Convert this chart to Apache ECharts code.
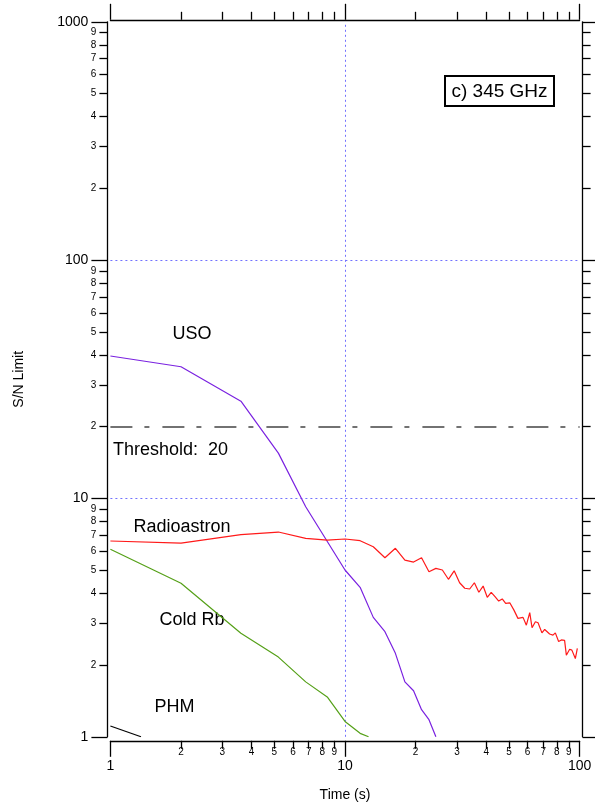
<!DOCTYPE html>
<html>
<head>
<meta charset="utf-8">
<script src="https://cdn.jsdelivr.net/npm/echarts@6/dist/echarts.min.js"></script>
<style>
html,body{margin:0;padding:0;background:#fff;}
#chart{width:595px;height:808px;}
</style>
</head>
<body>
<div id="chart"></div>
<script>
// ---- data ----
const usoX = [1, 2.0, 3.6, 5.2, 6.8, 10, 11.6, 13.2, 14.8, 16.4, 18.0, 19.6, 21.2, 22.8, 24.4];
const usoY = [39.6, 35.7, 25.6, 15.5, 9.23, 5.01, 4.24, 3.17, 2.76, 2.24, 1.70, 1.56, 1.30, 1.18, 1.0];

const radioX = [1, 2.0, 3.6, 5.2, 6.8, 8.4, 10, 11.6, 13.2, 14.8, 16.4, 18.0, 19.6, 21.2, 22.8, 24.4, 26.0, 27.6, 29.2, 30.8,
  32.4, 34.0, 35.6, 37.2, 38.8, 40.4, 42.0, 43.6, 45.2, 46.8, 48.4, 50.4, 52.5, 54.6, 57.4, 59.3, 61.3, 62.7, 64.8, 66.5,
  69.1, 71.0, 74.5, 77.0, 78.8, 81.4, 83.6, 86.3, 87.8, 90.7, 92.7, 94.3, 95.9, 97.8];
const radioY = [6.63, 6.50, 7.05, 7.23, 6.80, 6.69, 6.76, 6.65, 6.27, 5.64, 6.18, 5.51, 5.41, 5.64, 4.93, 5.09, 5.01, 4.58, 4.97, 4.43,
  4.20, 4.17, 4.43, 4.04, 4.29, 3.85, 4.04, 3.87, 3.71, 3.79, 3.63, 3.65, 3.40, 3.14, 3.17, 2.94, 3.32, 2.87, 3.04, 3.01,
  2.73, 2.82, 2.70, 2.67, 2.73, 2.51, 2.55, 2.54, 2.20, 2.33, 2.31, 2.32, 2.13, 2.35];

const coldX = [1, 2.0, 3.6, 5.2, 6.8, 8.4, 10, 11.6, 12.6];
const coldY = [6.12, 4.41, 2.72, 2.16, 1.70, 1.47, 1.16, 1.034, 1.0];

const phmX = [1, 1.35];
const phmY = [1.11, 1.0];

const thresholdValue = 20;
const gridYValues = [10, 100];
const gridXValues = [10];

const xMajorTicks = [1, 10, 100];
const xMinorTicks = [2, 3, 4, 5, 6, 7, 8, 9, 20, 30, 40, 50, 60, 70, 80, 90];
const yMajorTicks = [1, 10, 100, 1000];
const yMinorTicks = [2, 3, 4, 5, 6, 7, 8, 9, 20, 30, 40, 50, 60, 70, 80, 90, 200, 300, 400, 500, 600, 700, 800, 900];

const seriesNames = ['USO', 'Radioastron', 'Cold Rb', 'PHM'];

// ---- helpers ----
const FONT = '"Liberation Sans", Arial, Helvetica, sans-serif';
const pairs = (xs, ys) => xs.map((x, i) => [x, ys[i]]);
const minorFmt = v => String(Math.round(v / Math.pow(10, Math.floor(Math.log10(v) + 1e-9))));
const majorFmt = v => String(Math.round(v));

function xAx(pos, offset, ticks, len, showLine, label) {
  return {
    type: 'log', logBase: 10, min: 1, max: 100, position: pos, offset: offset,
    axisLine: { show: showLine, lineStyle: { color: '#000', width: 1.3 } },
    axisTick: { show: true, inside: false, length: len, customValues: ticks, lineStyle: { color: '#000', width: 1.3 } },
    axisLabel: label ? Object.assign({ show: true, customValues: ticks, color: '#000', fontFamily: FONT }, label) : { show: false },
    splitLine: { show: false }, minorTick: { show: false }
  };
}
function yAx(pos, offset, ticks, len, showLine, label) {
  return {
    type: 'log', logBase: 10, min: 1, max: 1000, position: pos, offset: offset,
    axisLine: { show: showLine, lineStyle: { color: '#000', width: 1.3 } },
    axisTick: { show: true, inside: false, length: len, customValues: ticks, lineStyle: { color: '#000', width: 1.3 } },
    axisLabel: label ? Object.assign({ show: true, customValues: ticks, color: '#000', fontFamily: FONT }, label) : { show: false },
    splitLine: { show: false }, minorTick: { show: false }
  };
}

const xAxes = [
  Object.assign(xAx('bottom', 4, xMajorTicks, 16, true, { fontSize: 14, margin: 18, formatter: majorFmt }),
    { name: 'Time (s)', nameLocation: 'middle', nameGap: 47, nameTextStyle: { fontSize: 14, fontFamily: FONT, color: '#000' } }),
  xAx('bottom', 4, xMinorTicks, 8, false, { fontSize: 10, margin: 6, formatter: minorFmt }),
  xAx('top', 2, xMajorTicks, 16, true, null),
  xAx('top', 2, xMinorTicks, 8, false, null)
];
const yAxes = [
  Object.assign(yAx('left', 3, yMajorTicks, 16, true, { fontSize: 14, margin: 19, formatter: majorFmt }),
    { name: 'S/N Limit', nameLocation: 'middle', nameGap: 81, nameTextStyle: { fontSize: 14, fontFamily: FONT, color: '#000' } }),
  yAx('left', 3, yMinorTicks, 8, false, { fontSize: 10, margin: 11, formatter: minorFmt }),
  yAx('right', 3, yMajorTicks, 16, true, null),
  yAx('right', 3, yMinorTicks, 8, false, null)
];

const lineSeries = (name, xs, ys, color) => ({
  type: 'line', name: name, data: pairs(xs, ys), xAxisIndex: 0, yAxisIndex: 0,
  showSymbol: false, symbol: 'none', smooth: false, z: 5, clip: true,
  lineStyle: { color: color, width: 1.2 }, emphasis: { disabled: true }
});

const dotted = { color: '#7272ff', width: 1, type: [2, 3] };

const option = {
  animation: false,
  backgroundColor: '#fff',
  grid: { left: 110.4, right: 15.4, top: 21.8, bottom: 71.2, containLabel: false },
  xAxis: xAxes,
  yAxis: yAxes,
  series: [
    {
      type: 'line', data: [], xAxisIndex: 0, yAxisIndex: 0, z: 2, silent: true,
      markLine: {
        silent: true, symbol: ['none', 'none'], animation: false, label: { show: false },
        data: [
          ...gridYValues.map(v => ({ yAxis: v, lineStyle: dotted })),
          ...gridXValues.map(v => ({ xAxis: v, lineStyle: dotted })),
          { yAxis: thresholdValue, lineStyle: { color: '#444', width: 1.5, type: [22, 12, 5, 13] } }
        ]
      }
    },
    lineSeries(seriesNames[0], usoX, usoY, '#7a22e0'),
    lineSeries(seriesNames[1], radioX, radioY, '#ff1a1a'),
    lineSeries(seriesNames[2], coldX, coldY, '#55a018'),
    lineSeries(seriesNames[3], phmX, phmY, '#000')
  ],
  graphic: [
    { type: 'text', x: 192, y: 334, style: { text: 'USO', font: '18px ' + FONT, fill: '#000', align: 'center', verticalAlign: 'middle', textAlign: 'center', textVerticalAlign: 'middle' } },
    { type: 'text', x: 113, y: 450, style: { text: 'Threshold:  ' + thresholdValue, font: '18px ' + FONT, fill: '#000', align: 'left', verticalAlign: 'middle', textAlign: 'left', textVerticalAlign: 'middle' } },
    { type: 'text', x: 182, y: 527, style: { text: 'Radioastron', font: '18px ' + FONT, fill: '#000', align: 'center', verticalAlign: 'middle', textAlign: 'center', textVerticalAlign: 'middle' } },
    { type: 'text', x: 192, y: 620, style: { text: 'Cold Rb', font: '18px ' + FONT, fill: '#000', align: 'center', verticalAlign: 'middle', textAlign: 'center', textVerticalAlign: 'middle' } },
    { type: 'text', x: 174.5, y: 707, style: { text: 'PHM', font: '18px ' + FONT, fill: '#000', align: 'center', verticalAlign: 'middle', textAlign: 'center', textVerticalAlign: 'middle' } },
    { type: 'rect', shape: { x: 445, y: 76, width: 109, height: 30 }, style: { fill: '#fff', stroke: '#000', lineWidth: 2 }, z: 10 },
    { type: 'text', x: 499.5, y: 91.5, z: 11, style: { text: 'c) 345 GHz', font: '19px ' + FONT, fill: '#000', align: 'center', verticalAlign: 'middle', textAlign: 'center', textVerticalAlign: 'middle' } }
  ]
};

const chart = echarts.init(document.getElementById('chart'), null, { renderer: 'canvas' });
chart.setOption(option);
</script>
</body>
</html>
